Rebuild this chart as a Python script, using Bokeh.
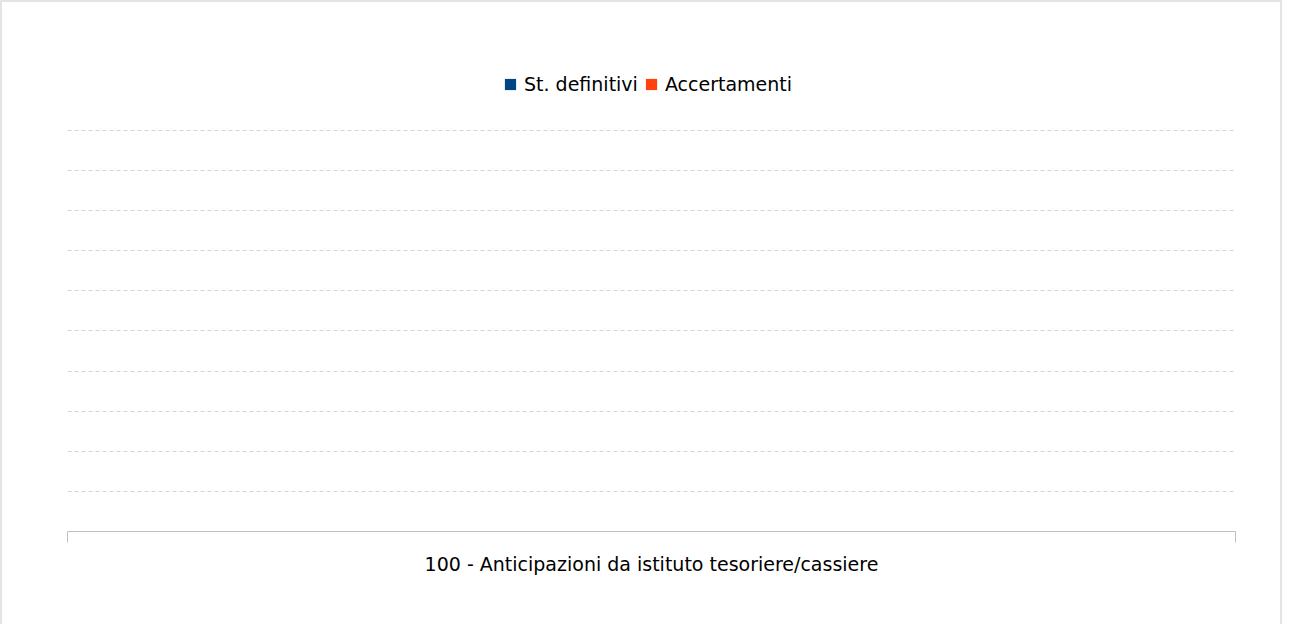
from bokeh.plotting import figure
from bokeh.models import (Range1d, LinearAxis, FixedTicker, Grid, Legend,
                          LegendItem, ColumnDataSource)
from bokeh.embed import file_html
from bokeh.resources import INLINE

# ---- data ----
categories = ["100 - Anticipazioni da istituto tesoriere/cassiere"]
series_names = ["St. definitivi", "Accertamenti"]
st_definitivi = [0]
accertamenti = [0]
grid_values = [0, 1, 2, 3, 4, 5, 6, 7, 8, 9, 10]
colors = ["#004586", "#ff420e"]

FONT = "DejaVu Sans"
n = len(categories)
idx = list(range(n))

p = figure(width=1282, height=624, output_backend="svg", toolbar_location=None,
           x_range=Range1d(-0.5, n - 0.5), y_range=Range1d(0, 11.7456),
           x_axis_location=None, y_axis_location=None,
           min_border_left=65, min_border_right=49,
           min_border_top=58, min_border_bottom=95)
p.outline_line_color = None
p.center = []
p.styles = {"border-top": "2px solid #e4e4e4",
            "border-left": "2px solid #e4e4e4",
            "border-right": "2px solid #e4e4e4"}

grid = Grid(dimension=1, ticker=FixedTicker(ticks=grid_values),
            grid_line_color="#d4d4d4", grid_line_dash="4 3", grid_line_width=1)
p.add_layout(grid)

bw = 0.3
src1 = ColumnDataSource(dict(x=[i - bw / 2 for i in idx], top=st_definitivi))
src2 = ColumnDataSource(dict(x=[i + bw / 2 for i in idx], top=accertamenti))
r1 = p.vbar(x="x", top="top", width=bw, source=src1, fill_color=colors[0], line_color=None)
r2 = p.vbar(x="x", top="top", width=bw, source=src2, fill_color=colors[1], line_color=None)

xaxis = LinearAxis(ticker=FixedTicker(ticks=idx, minor_ticks=[i - 0.5 for i in range(n + 1)]),
                   major_label_overrides={i: c for i, c in enumerate(categories)})
xaxis.axis_line_color = "#c0c0c0"
xaxis.major_tick_line_color = None
xaxis.major_tick_out = 0
xaxis.major_tick_in = 0
xaxis.minor_tick_line_color = "#c0c0c0"
xaxis.minor_tick_out = 11
xaxis.minor_tick_in = 0
xaxis.major_label_standoff = 10
xaxis.major_label_text_font = FONT
xaxis.major_label_text_font_size = "19px"
xaxis.major_label_text_color = "#000000"
p.add_layout(xaxis, "below")

legend = Legend(items=[LegendItem(label=series_names[0], renderers=[r1]),
                       LegendItem(label=series_names[1], renderers=[r2])],
                orientation="horizontal", location=(436, 436))
legend.border_line_color = None
legend.background_fill_alpha = 0
legend.padding = 0
legend.margin = 0
legend.spacing = 6
legend.label_standoff = 7
legend.glyph_width = 14
legend.glyph_height = 14
legend.label_text_font = FONT
legend.label_text_font_size = "19px"
legend.label_text_color = "#000000"
legend.label_height = 20
p.add_layout(legend, "center")

open("out.html", "w").write(file_html(p, INLINE))
